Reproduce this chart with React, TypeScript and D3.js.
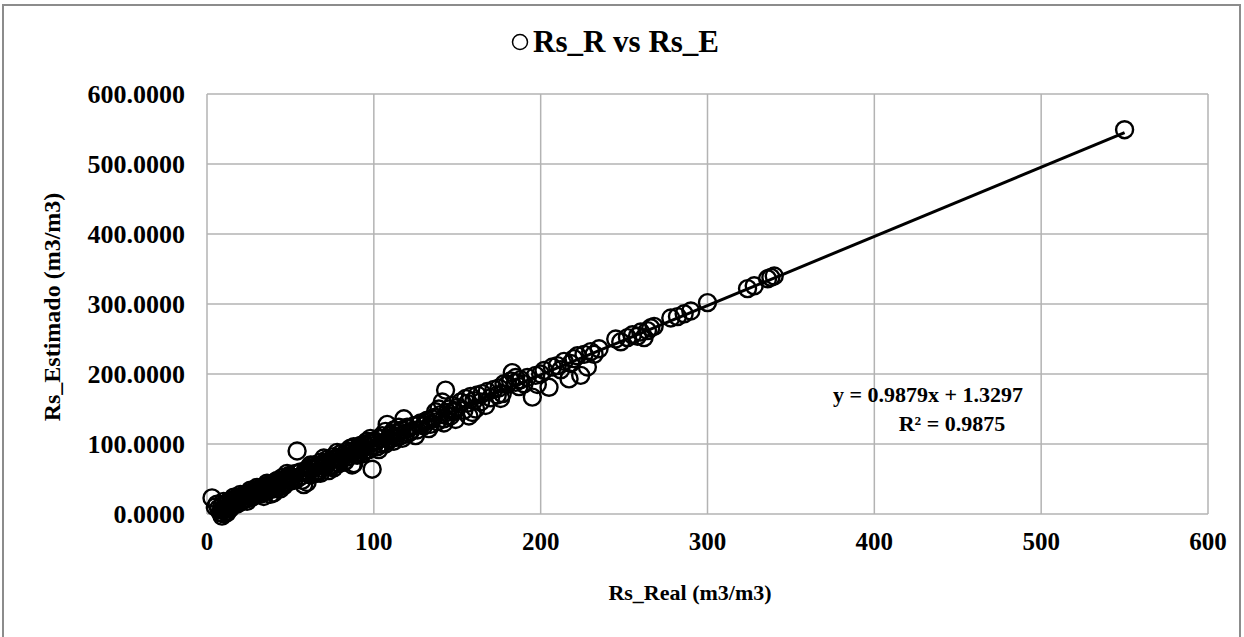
import React from "react";
import * as d3 from "d3";

const chartTitle = "Rs_R vs Rs_E";
const xTitle = "Rs_Real (m3/m3)";
const yTitle = "Rs_Estimado (m3/m3)";
const xTicks = [0, 100, 200, 300, 400, 500, 600];
const yTicks = [0, 100, 200, 300, 400, 500, 600];
const slope = 0.9879;
const intercept = 1.3297;
const eqLabel = "y = 0.9879x + 1.3297";
const r2Label = "R² = 0.9875";

const rsReal = [
  8, 9, 10, 11, 12, 9, 13, 14, 15, 16, 17, 18, 19, 20, 21, 22, 23, 24, 25, 26, 27, 28, 29, 30, 31, 32, 33, 34, 35, 36, 37, 38, 39, 40, 41, 42, 43, 44, 45, 46, 47, 48, 49, 50,
  12, 14, 16, 18, 20, 22, 24, 26, 28, 30, 32, 34, 36, 38, 40, 42, 44, 46, 48, 50, 5, 7, 6, 10, 3,
  11, 13, 15, 17, 19, 21, 23, 25, 27, 29, 31, 33, 35, 37, 39, 41, 43, 45, 47, 49, 9, 10, 12,
  52, 54, 55, 56, 57, 58, 59, 60, 61, 62, 63, 64, 65, 66, 67, 68, 69, 70, 71, 72, 73, 74, 75, 76, 77, 78, 79, 80, 81, 82, 83, 84, 85, 86, 87, 88, 89, 90, 91, 92, 93, 94, 95, 96, 97, 98, 99, 100,
  53, 57, 62, 66, 70, 74, 78, 82, 86, 90, 94, 98, 60, 68, 76, 88,
  51, 55, 59, 63, 67, 71, 75, 79, 83, 87, 91, 95, 99,
  101, 102, 103, 104, 105, 106, 107, 108, 109, 110, 111, 112, 113, 114, 115, 116, 117, 118, 119, 120, 122, 124, 126, 128, 130, 132, 134, 136, 138, 140, 141, 142, 143, 144, 145, 146, 147, 148, 149, 150,
  103, 107, 112, 117, 121, 125, 133, 137, 142, 139,
  105, 110, 115, 120, 127, 131, 135, 144, 148,
  152, 154, 155, 156, 158, 159, 160, 162, 164, 165, 167, 168, 170, 172, 174, 175, 177, 178, 180, 182, 183, 185, 187, 188, 190, 192, 195, 197, 200, 202, 205, 207, 210, 212, 214, 217, 218, 220, 222, 224, 226, 228, 230, 232, 235,
  157, 161, 176, 185, 198,
  245, 248, 252, 255, 258, 260, 262, 264, 266, 268, 278, 282, 286, 290, 300, 324, 328, 336, 338, 340,
  550,
];

const rsEstimado = [
  2, 5, 0, 8, 4, 12, 10, 14, 12, 18, 15, 20, 22, 17, 25, 20, 28, 22, 26, 30, 24, 32, 27, 30, 34, 28, 36, 31, 40, 33, 38, 28, 42, 36, 44, 38, 46, 40, 52, 44, 50, 45, 55, 47,
  16, 8, 24, 14, 28, 26, 18, 34, 26, 38, 32, 25, 44, 35, 30, 48, 36, 40, 58, 54, 10, 8, 14, 18, 23,
  14, 18, 20, 22, 24, 26, 25, 30, 32, 34, 36, 38, 38, 42, 40, 46, 44, 48, 50, 52, -3, 6, 2,
  48, 90, 52, 60, 55, 42, 62, 58, 66, 56, 64, 70, 60, 68, 62, 74, 65, 72, 68, 78, 62, 76, 70, 82, 74, 80, 72, 86, 78, 84, 76, 90, 82, 88, 70, 96, 85, 92, 88, 98, 86, 100, 90, 104, 92, 108, 64, 98,
  58, 48, 70, 58, 80, 68, 88, 74, 94, 84, 94, 102, 45, 58, 66, 72,
  52, 58, 60, 66, 70, 74, 78, 80, 86, 90, 96, 98, 104,
  104, 96, 108, 100, 112, 102, 118, 128, 106, 114, 108, 120, 110, 116, 124, 112, 120, 136, 114, 122, 118, 126, 120, 130, 126, 134, 128, 138, 132, 142, 160, 136, 177, 145, 150, 140, 155, 148, 135, 152,
  92, 100, 104, 108, 116, 112, 122, 146, 130, 150,
  108, 112, 118, 124, 128, 132, 136, 140, 146,
  160, 148, 165, 158, 168, 145, 162, 170, 160, 172, 155, 175, 166, 178, 170, 180, 172, 186, 185, 190, 202, 188, 182, 192, 186, 195, 167, 198, 200, 205, 181, 210, 212, 206, 218, 193, 215, 222, 226, 198, 228, 210, 232, 228, 236,
  140, 150, 165, 195, 185,
  250, 246, 252, 256, 254, 260, 252, 262, 266, 268, 280, 282, 286, 290, 302, 322, 326, 336, 338, 340,
  549,
];

export default function App() {
  const W = 1244;
  const H = 637;
  const x = d3.scaleLinear().domain([0, 600]).range([207, 1208]);
  const y = d3.scaleLinear().domain([0, 600]).range([514, 94]);
  const pts = rsReal.map((v, i) => [v, rsEstimado[i]] as [number, number]);
  const xMin = d3.min(rsReal) as number;
  const xMax = d3.max(rsReal) as number;
  const line = d3.line<number>().x((d) => x(d)).y((d) => y(slope * d + intercept));
  const font = "'Liberation Serif', 'Times New Roman', serif";
  const grid = "#b3b3b3";

  return (
    <svg width={W} height={H} style={{ position: "absolute", left: 0, top: 0, background: "#fff" }} fontFamily={font}>
      <rect x={3} y={5} width={1237} height={650} fill="#fff" stroke="#8c8c8c" strokeWidth={2} />
      {yTicks.map((t) => (
        <line key={"gy" + t} x1={x(0)} x2={x(600)} y1={y(t)} y2={y(t)} stroke={grid} strokeWidth={1.5} />
      ))}
      {xTicks.map((t) => (
        <line key={"gx" + t} x1={x(t)} x2={x(t)} y1={y(0)} y2={y(600)} stroke={grid} strokeWidth={1.5} />
      ))}
      {yTicks.map((t) => (
        <text key={"ty" + t} x={185} y={y(t)} dy="0.35em" textAnchor="end" fontSize={26} fontWeight="bold">
          {d3.format(".4f")(t)}
        </text>
      ))}
      {xTicks.map((t) => (
        <text key={"tx" + t} x={x(t)} y={550} textAnchor="middle" fontSize={25} fontWeight="bold">
          {t}
        </text>
      ))}
      {pts.map((p, i) => (
        <circle key={i} cx={x(p[0])} cy={y(p[1])} r={8.5} fill="none" stroke="#000" strokeWidth={2.4} />
      ))}
      <path d={line([xMin, xMax]) || ""} fill="none" stroke="#000" strokeWidth={3} />
      <text x={928} y={402} textAnchor="middle" fontSize={22} fontWeight="bold">{eqLabel}</text>
      <text x={952} y={431} textAnchor="middle" fontSize={22} fontWeight="bold">{r2Label}</text>
      <circle cx={520} cy={42} r={7.5} fill="none" stroke="#000" strokeWidth={1.5} />
      <text x={533} y={52} fontSize={31} fontWeight="bold">{chartTitle}</text>
      <text transform={`translate(60,307) rotate(-90)`} textAnchor="middle" fontSize={24} fontWeight="bold">{yTitle}</text>
      <text x={690} y={600} textAnchor="middle" fontSize={22} fontWeight="bold">{xTitle}</text>
    </svg>
  );
}
